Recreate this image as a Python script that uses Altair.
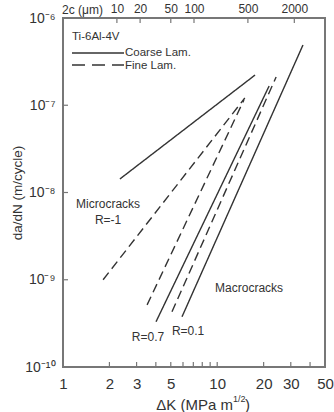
import altair as alt
import pandas as pd

# ---- data ----
line_ids = ["coarse_micro_Rm1", "fine_micro_Rm1", "fine_macro_R07",
            "coarse_macro_R07", "fine_macro_R01", "coarse_macro_R01"]
line_type = ["Coarse", "Fine", "Fine", "Coarse", "Fine", "Coarse"]
dk_start = [2.34, 1.82, 3.51, 4.01, 5.09, 5.91]
dk_end = [17.6, 15.1, 14.9, 21.7, 24.1, 36.0]
dadn_start = [1.43e-8, 1.0e-9, 5.15e-10, 3.3e-10, 4.29e-10, 3.76e-10]
dadn_end = [2.22e-7, 1.21e-7, 1.15e-7, 1.66e-7, 2.11e-7, 4.91e-7]

x_labels = [1, 2, 3, 5, 10, 20, 30, 50]
x_ticks = [2, 3, 4, 5, 6, 7, 8, 9, 10, 20, 30, 40]
y_ticks = [1e-10, 1e-9, 1e-8, 1e-7, 1e-6]
crack_2c_um = [10, 20, 50, 100, 500, 2000]

ann_text = ["Microcracks", "R=-1", "Macrocracks", "R=0.7", "R=0.1"]
ann_dk = [1.96, 1.96, 16.1, 3.56, 6.47]
ann_dadn = [7.4e-9, 4.85e-9, 8.07e-10, 2.22e-10, 2.6e-10]

# ---- tables ----
rows = []
for i, lid in enumerate(line_ids):
    rows.append({"id": lid, "type": line_type[i], "dk": dk_start[i], "dadn": dadn_start[i]})
    rows.append({"id": lid, "type": line_type[i], "dk": dk_end[i], "dadn": dadn_end[i]})
df_lines = pd.DataFrame(rows)
df_top = pd.DataFrame({"dk": [(c / 2) ** 0.5 for c in crack_2c_um]})
df_xt = pd.DataFrame({"dk": x_ticks})
df_yt = pd.DataFrame({"dadn": y_ticks[1:-1]})
df_ann = pd.DataFrame({"t": ann_text, "dk": ann_dk, "dadn": ann_dadn})

W, H = 262, 349
FONT = "Liberation Sans"
INK = "#333333"
xscale = alt.Scale(type="log", domain=[1, 50], nice=False)
yscale = alt.Scale(type="log", domain=[1e-10, 1e-6], nice=False)

ylabel_expr = ("datum.value < 3e-10 ? '10⁻¹⁰' : datum.value < 3e-9 ? '10⁻⁹' : "
               "datum.value < 3e-8 ? '10⁻⁸' : datum.value < 3e-7 ? '10⁻⁷' : '10⁻⁶'")

lines = alt.Chart(df_lines).mark_line(color=INK, strokeWidth=1.4).encode(
    x=alt.X("dk:Q", scale=xscale,
            axis=alt.Axis(values=x_labels, format="d", ticks=False, domain=False, grid=False,
                          title=None, labelFontSize=15, labelColor=INK, labelFont=FONT,
                          labelPadding=9, labelFlush=False, labelOverlap=False)),
    y=alt.Y("dadn:Q", scale=yscale,
            axis=alt.Axis(values=y_ticks, labelExpr=ylabel_expr, ticks=False, domain=False,
                          grid=False, title="da/dN (m/cycle)", titleFontSize=13.5,
                          titleFontWeight="normal", titleFont=FONT, titleColor=INK,
                          titleX=-46, titleY=H / 2, titleBaseline="middle",
                          labelFontSize=14, labelColor=INK, labelFont=FONT,
                          labelPadding=8, labelFlush=False, labelOverlap=False)),
    detail="id:N",
    strokeDash=alt.StrokeDash("type:N", scale=alt.Scale(domain=["Coarse", "Fine"],
                                                        range=[[1, 0], [9, 5]]), legend=None),
)

top_ticks = alt.Chart(df_top).mark_rule(color="#777777", strokeWidth=1.2).encode(
    x=alt.X("dk:Q", scale=xscale,
            axis=alt.Axis(orient="top", values=[(c / 2) ** 0.5 for c in crack_2c_um],
                          labelExpr="format(round(2*datum.value*datum.value),'d')",
                          ticks=False, domain=False, grid=False, title=None,
                          labelFontSize=12, labelColor=INK, labelFont=FONT,
                          labelPadding=3, labelFlush=False, labelOverlap=False)),
    y=alt.value(0), y2=alt.value(5),
)

bottom_ticks = alt.Chart(df_xt).mark_rule(color="#777777", strokeWidth=1.2).encode(
    x=alt.X("dk:Q", scale=xscale, axis=None),
    y=alt.value(H), y2=alt.value(H - 5),
)

left_ticks = alt.Chart(df_yt).mark_rule(color="#777777", strokeWidth=1.2).encode(
    y=alt.Y("dadn:Q", scale=yscale, axis=None),
    x=alt.value(0), x2=alt.value(5),
)

ann = alt.Chart(df_ann).mark_text(font=FONT, fontSize=12, color=INK, align="center",
                                  baseline="middle").encode(
    x=alt.X("dk:Q", scale=xscale, axis=None),
    y=alt.Y("dadn:Q", scale=yscale, axis=None),
    text="t:N",
)

def txt(s, x, y, size, align="left", baseline="middle"):
    return alt.Chart(pd.DataFrame({"t": [s]})).mark_text(
        font=FONT, fontSize=size, color=INK, align=align, baseline=baseline
    ).encode(x=alt.value(x), y=alt.value(y), text="t:N")

leg_solid = alt.Chart(pd.DataFrame({"a": [0]})).mark_rule(color=INK, strokeWidth=1.4).encode(
    x=alt.value(9), x2=alt.value(61), y=alt.value(35))
leg_dash = alt.Chart(pd.DataFrame({"a": [0]})).mark_rule(
    color=INK, strokeWidth=1.4, strokeDash=[13, 7]).encode(
    x=alt.value(9), x2=alt.value(61), y=alt.value(47))

texts = [
    txt("Ti-6Al-4V", 9, 19, 11.5),
    txt("Coarse Lam.", 62, 34.5, 11.5),
    txt("Fine Lam.", 62, 47.5, 11.5),
    txt("2c (μm)", -1, -8, 12),
    txt("ΔK (MPa m", 170, 387, 15, align="right"),
    txt("1/2", 170, 381, 9),
    txt(")", 182, 387, 15),
]

chart = alt.layer(lines, top_ticks, bottom_ticks, left_ticks, ann, leg_solid, leg_dash,
                  *texts).resolve_axis(x="independent", y="independent").properties(
    width=W, height=H,
    padding={"left": 63, "top": 18, "right": 9, "bottom": 45},
    autosize=alt.AutoSizeParams(type="none"),
).configure_view(stroke="#777777", strokeWidth=2)

chart.save("out.html", embed_options={"renderer": "svg", "actions": False})
